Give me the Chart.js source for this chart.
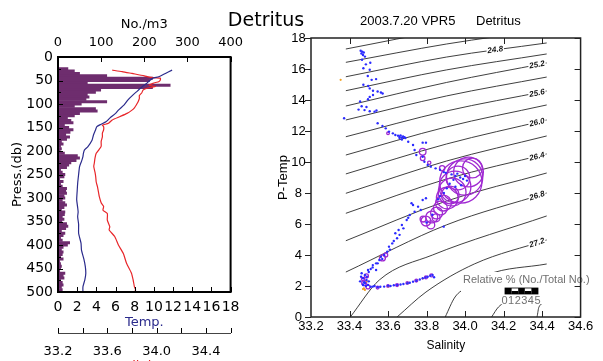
<!DOCTYPE html>
<html>
<head>
<meta charset="utf-8">
<script src="https://cdn.jsdelivr.net/npm/chart.js@4.4.1/dist/chart.umd.min.js"></script>
<style>
  html, body { margin: 0; padding: 0; background: #fff; }
  body { width: 603px; height: 361px; position: relative; overflow: hidden; }
  #leftBox { position: absolute; left: 0; top: 0; width: 250px; height: 361px; }
  #rightBox { position: absolute; left: 200px; top: 0; width: 403px; height: 361px; }
</style>
</head>
<body>
<div id="leftBox"><canvas id="profileChart"></canvas></div>
<div id="rightBox"><canvas id="tsChart"></canvas></div>
<script>
// ---- vertical profile (left panel) ----
const depthBins = [25, 30, 35, 40, 45, 50, 55, 60, 65, 70, 75, 80, 85, 90, 95, 100, 105, 110, 115, 120,
  125, 130, 135, 140, 145, 150, 155, 160, 165, 170, 175, 180, 185, 190, 195, 200, 205, 210, 215, 220,
  225, 230, 235, 240, 245, 250, 255, 260, 265, 270, 275, 280, 285, 290, 295, 300, 305, 310, 315, 320,
  325, 330, 335, 340, 345, 350, 355, 360, 365, 370, 375, 380, 385, 390, 395, 400, 405, 410, 415, 420,
  425, 430, 435, 440, 445, 450, 455, 460, 465, 470, 475, 480, 485, 490, 495, 500];
const detritusCounts = [23, 38, 50, 113, 219, 212, 68, 260, 219, 99, 87, 68, 72, 65, 113, 54, 38, 87, 91, 50,
  38, 22, 30, 35, 15, 25, 35, 28, 18, 27, 20, 8, 12, 6, 8, 5, 15, 45, 50, 42,
  30, 25, 20, 6, 10, 16, 14, 4, 12, 6, 10, 20, 18, 20, 14, 16, 10, 16, 20, 14,
  8, 16, 15, 10, 14, 9, 20, 23, 18, 8, 16, 12, 6, 10, 27, 22, 12, 8, 12, 10,
  6, 12, 4, 6, 8, 6, 4, 16, 12, 14, 6, 10, 12, 8, 10, 6];

const tempDepth = [28, 35, 42, 45, 51, 57, 63, 72, 81, 91, 102, 113, 120, 130, 138, 143, 148, 156, 166, 177,
  191, 198, 205, 212, 222, 233, 250, 269, 285, 304, 320, 330, 340, 356, 375, 396, 411, 430, 446, 460, 474, 489, 500];
const tempValues = [11.9, 11.2, 10.5, 9.9, 9.5, 9.2, 8.8, 8.3, 7.8, 7.3, 6.9, 6.3, 6.0, 5.4, 5.0, 4.5, 4.05, 3.9, 3.7, 3.55,
  3.1, 2.75, 2.65, 2.6, 2.45, 2.25, 2.15, 2.05, 2.0, 1.95, 2.05, 2.1, 2.05, 2.15, 2.15, 2.4, 2.45, 2.7, 2.85, 2.9, 2.8, 2.6, 2.6];

const salDepth = [28, 31, 35, 40, 43, 45, 49, 52, 56, 60, 63, 66, 70, 76, 82, 88, 95, 102, 108, 113,
  120, 127, 134, 141, 145, 148, 155, 162, 170, 180, 190, 198, 205, 215, 225, 233, 245, 255, 266, 276,
  290, 297, 310, 318, 326, 333, 347, 361, 368, 382, 400, 418, 439, 460, 475, 489, 496, 500];
const salValues = [33.64, 33.72, 33.80, 33.90, 33.94, 34.03, 34.03, 34.02, 33.97, 33.94, 33.99, 33.93, 33.89, 33.88, 33.86, 33.86, 33.85, 33.835, 33.82, 33.80,
  33.76, 33.70, 33.64, 33.61, 33.56, 33.57, 33.57, 33.56, 33.56, 33.55, 33.55, 33.53, 33.51, 33.50, 33.495, 33.49, 33.50, 33.506, 33.51, 33.52,
  33.53, 33.535, 33.55, 33.57, 33.565, 33.60, 33.60, 33.62, 33.615, 33.66, 33.69, 33.73, 33.756, 33.796, 33.81, 33.82, 33.83, 33.82];

const countTicks = [0, 100, 200, 300, 400];
const tempTicks = [0, 2, 4, 6, 8, 10, 12, 14, 16, 18];
const salTicks = [33.2, 33.6, 34.0, 34.4];

// ---- T-S diagram (right panel) ----
const tsBlue = [
  [33.458, 17.18], [33.466, 17.12], [33.474, 17.06], [33.462, 17.0], [33.47, 16.9], [33.48, 16.8],
  [33.465, 16.6], [33.508, 16.4], [33.485, 16.3], [33.472, 16.05], [33.505, 15.95], [33.495, 15.55],
  [33.515, 15.3], [33.538, 15.35], [33.472, 14.98], [33.497, 14.9], [33.505, 14.75], [33.522, 14.6],
  [33.546, 14.55], [33.563, 14.48], [33.572, 14.42], [33.522, 14.32], [33.505, 14.2], [33.496, 14.05],
  [33.455, 13.9], [33.463, 13.6], [33.488, 13.55], [33.447, 13.38], [33.478, 13.35], [33.505, 13.27],
  [33.53, 13.25], [33.54, 13.32], [33.372, 12.82],
  [33.546, 12.5], [33.571, 12.32], [33.588, 12.17], [33.605, 11.96], [33.625, 11.85], [33.638, 11.74],
  [33.652, 11.7], [33.66, 11.62], [33.665, 11.72], [33.672, 11.58], [33.678, 11.65], [33.685, 11.6],
  [33.69, 11.55], [33.66, 11.55], [33.672, 11.45], [33.705, 11.31], [33.73, 11.1], [33.78, 11.25],
  [33.797, 11.25], [33.738, 10.77], [33.747, 10.45], [33.78, 10.34], [33.789, 10.02], [33.806, 9.81],
  [33.822, 9.7], [33.847, 9.59], [33.87, 9.5], [33.89, 9.35],
  [33.9, 9.3], [33.93, 9.2], [33.95, 9.1], [33.96, 9.25], [33.975, 9.0], [33.99, 8.9], [34.0, 9.1],
  [34.01, 8.8], [33.94, 8.85], [33.92, 8.6], [33.98, 8.5], [33.905, 8.3], [33.95, 8.4], [33.89, 8.0],
  [33.87, 7.8], [33.86, 7.6],
  [33.797, 7.66], [33.78, 7.55], [33.756, 7.12], [33.73, 7.23], [33.722, 7.34], [33.738, 6.79],
  [33.713, 6.58], [33.697, 6.26], [33.705, 6.4], [33.672, 5.94], [33.68, 5.72], [33.655, 5.61],
  [33.638, 5.4], [33.647, 5.08], [33.66, 5.3], [33.622, 4.75], [33.63, 4.9], [33.605, 4.54],
  [33.596, 4.21], [33.61, 4.35], [33.58, 4.0], [33.563, 3.89], [33.555, 3.68], [33.57, 3.75],
  [33.538, 3.46], [33.546, 3.46], [33.521, 3.35], [33.538, 3.03], [33.496, 3.03], [33.51, 3.1],
  [33.48, 2.71], [33.463, 2.82], [33.471, 2.5], [33.488, 2.39], [33.476, 2.25], [33.47, 2.1],
  [33.471, 2.06], [33.485, 2.0], [33.496, 2.06], [33.51, 1.95], [33.521, 1.96], [33.53, 2.0],
  [33.546, 1.92], [33.56, 1.95], [33.58, 1.96], [33.6, 2.02], [33.613, 2.0], [33.63, 2.05],
  [33.647, 2.06], [33.665, 2.1], [33.68, 2.13], [33.7, 2.18], [33.713, 2.21], [33.73, 2.28],
  [33.747, 2.34], [33.765, 2.42], [33.78, 2.5], [33.795, 2.55], [33.806, 2.6], [33.82, 2.66],
  [33.831, 2.71], [33.839, 2.56], [33.889, 5.83], [33.8, 6.1], [33.83, 6.6], [33.77, 6.9],
  [33.5, 2.9], [33.49, 2.6], [33.52, 3.2], [33.5, 2.3], [33.48, 2.2], [33.455, 2.3], [33.46, 2.6]
];
// [salinity, temp, relative %]
const tsCircles = [
  [33.6, 11.85, 0.4], [33.78, 10.66, 1.0], [33.78, 10.24, 0.7], [33.814, 9.95, 0.5], [33.881, 9.59, 0.8],
  [33.998, 9.03, 5.5], [33.978, 8.71, 6.4], [34.018, 9.35, 4.5], [33.948, 8.39, 4.8], [33.933, 8.06, 4.2],
  [33.963, 8.97, 3.6], [33.908, 7.68, 3.3], [33.888, 7.35, 2.4], [33.872, 7.03, 2.1], [33.852, 6.71, 1.8],
  [33.827, 6.45, 1.8], [33.797, 6.19, 1.5], [33.782, 6.32, 0.9], [34.038, 9.61, 3.0], [33.923, 7.87, 2.7],
  [33.85, 6.4, 1.2], [33.822, 5.94, 1.2],
  [33.571, 3.81, 0.9], [33.588, 4.0, 0.6], [33.488, 2.65, 0.6], [33.476, 2.19, 0.75], [33.496, 1.94, 0.6],
  [33.546, 1.9, 0.45], [33.647, 2.06, 0.45], [33.747, 2.35, 0.45], [33.797, 2.55, 0.45], [33.825, 2.68, 0.45],
  [33.47, 2.45, 0.5], [33.6, 2.0, 0.4], [33.7, 2.2, 0.4]
];
const tsOrange = [[33.47, 1.8], [33.475, 1.85], [33.48, 1.75], [33.49, 2.3], [33.56, 3.9], [33.354, 15.3],
  [33.6, 1.98], [33.7, 2.17], [33.78, 2.48]];

// sigma-theta contours, [salinity, temp]
const isoLines = [
  [[33.381, 17.29], [33.903, 18.52], [34.424, 19.44]],
  [[33.381, 16.43], [33.903, 17.61], [34.424, 18.55]],
  [[33.381, 15.50], [33.903, 16.77], [34.424, 17.68]],
  [[33.381, 14.60], [33.903, 15.94], [34.424, 16.97]],
  [[33.381, 13.61], [33.903, 15.13], [34.424, 16.39]],
  [[33.381, 12.71], [33.903, 14.26], [34.424, 15.48]],
  [[33.381, 11.63], [33.903, 13.29], [34.424, 14.58]],
  [[33.381, 10.45], [33.903, 12.26], [34.424, 13.68]],
  [[33.381, 9.23], [33.903, 11.16], [34.424, 12.71]],
  [[33.381, 7.98], [33.903, 10.06], [34.424, 11.68]],
  [[33.381, 6.69], [33.903, 8.90], [34.424, 10.52]],
  [[33.381, 4.92], [33.903, 7.48], [34.424, 9.29]],
  [[33.381, 2.90], [33.903, 5.94], [34.424, 8.00]],
  [[33.404, 0], [33.555, 2.39], [33.831, 4.0], [34.424, 6.52]],
  [[33.647, 0], [33.797, 1.61], [34.048, 3.42], [34.424, 4.97]],
  [[33.897, 0], [33.948, 1.29], [34.013, 1.94], [34.113, 2.71], [34.424, 3.42]],
  [[34.138, 0], [34.174, 0.65], [34.299, 1.48], [34.424, 2.0]],
  [[34.374, 0], [34.384, 0.65], [34.424, 0.97]]
];
const isoLabels = [
  { text: '24.8', line: 2, s: 34.157, t: 17.23 },
  { text: '25.2', line: 4, s: 34.374, t: 16.26 },
  { text: '25.6', line: 6, s: 34.374, t: 14.43 },
  { text: '26.0', line: 8, s: 34.374, t: 12.54 },
  { text: '26.4', line: 10, s: 34.374, t: 10.34 },
  { text: '26.8', line: 12, s: 34.374, t: 7.81 },
  { text: '27.2', line: 14, s: 34.374, t: 4.77 }
];

const LEFT_FONT = 'DejaVu Sans';
const RIGHT_FONT = 'Liberation Sans';
Chart.defaults.color = '#000';

function fixSize(prop, size) {
  return function (scale) { scale[prop] = size; };
}

// inward ticks and frame for the profile panel
const profileFrame = {
  id: 'profileFrame',
  afterDraw(chart) {
    const { ctx, chartArea: a, scales } = chart;
    ctx.save();
    ctx.strokeStyle = '#000';
    ctx.lineWidth = 1;
    ctx.beginPath();
    countTicks.forEach(v => {
      const x = Math.round(scales.xTop.getPixelForValue(v)) + 0.5;
      ctx.moveTo(x, a.top); ctx.lineTo(x, a.top + 5);
    });
    tempTicks.forEach(v => {
      const x = Math.round(scales.xT.getPixelForValue(v)) + 0.5;
      ctx.moveTo(x, a.bottom); ctx.lineTo(x, a.bottom - 5);
    });
    for (let d = 0; d <= 500; d += 25) {
      const y = Math.round(scales.y.getPixelForValue(d)) + 0.5;
      ctx.moveTo(a.left, y); ctx.lineTo(a.left + (d % 50 ? 3 : 5), y);
    }
    const s = scales.xS;
    for (let k = 0; k <= 7; k++) {
      const x = Math.round(s.getPixelForValue(33.2 + k * 0.2)) + 0.5;
      ctx.moveTo(x, s.top); ctx.lineTo(x, s.top - 5);
    }
    ctx.stroke();
    ctx.lineWidth = 2;
    ctx.strokeRect(a.left, a.top, a.right - a.left, a.bottom - a.top);
    // salinity title, cut by the bottom edge
    ctx.fillStyle = '#e02020';
    ctx.font = '13px ' + LEFT_FONT;
    ctx.textAlign = 'center';
    ctx.textBaseline = 'middle';
    ctx.fillText('Salinity', 140, 367);
    ctx.restore();
  }
};

new Chart(document.getElementById('profileChart'), {
  type: 'bar',
  data: {
    datasets: [
      {
        type: 'line',
        label: 'Temp.',
        data: tempDepth.map((d, i) => ({ x: tempValues[i], y: d })),
        xAxisID: 'xT',
        yAxisID: 'y',
        borderColor: '#2b2b8c',
        borderWidth: 1.2,
        pointRadius: 0,
        fill: false,
        tension: 0.2
      },
      {
        type: 'line',
        label: 'Salinity',
        data: salDepth.map((d, i) => ({ x: salValues[i], y: d })),
        xAxisID: 'xS',
        yAxisID: 'y',
        borderColor: '#e8262a',
        borderWidth: 1.2,
        pointRadius: 0,
        fill: false,
        tension: 0.2
      },
      {
        type: 'bar',
        label: 'No./m3',
        data: depthBins.map((d, i) => ({ x: detritusCounts[i], y: d })),
        xAxisID: 'xTop',
        yAxisID: 'y',
        backgroundColor: '#6e2d6e',
        borderWidth: 0,
        barPercentage: 1,
        categoryPercentage: 1
      }
    ]
  },
  options: {
    indexAxis: 'y',
    responsive: true,
    maintainAspectRatio: false,
    animation: false,
    events: [],
    layout: { padding: { left: 0, right: 15, top: 0, bottom: 0 } },
    plugins: { legend: { display: false }, tooltip: { enabled: false } },
    scales: {
      y: {
        type: 'linear',
        position: 'left',
        reverse: true,
        min: 0,
        max: 500,
        offset: false,
        afterFit: fixSize('width', 58),
        grid: { display: false, drawTicks: false },
        border: { display: false },
        ticks: { stepSize: 50, padding: 5, font: { family: LEFT_FONT, size: 14 } },
        title: { display: true, text: 'Press.(db)', padding: { top: 10, bottom: 0 }, font: { family: LEFT_FONT, size: 13 } }
      },
      xTop: {
        type: 'linear',
        position: 'top',
        min: 0,
        max: 400,
        afterFit: fixSize('height', 57),
        grid: { display: false, drawTicks: false },
        border: { display: false },
        ticks: { stepSize: 100, padding: 7, maxRotation: 0, autoSkip: false, font: { family: LEFT_FONT, size: 13 } },
        title: { display: true, text: 'No./m3', padding: { top: 17, bottom: 0 }, font: { family: LEFT_FONT, size: 13 } }
      },
      xT: {
        type: 'linear',
        position: 'bottom',
        weight: 0,
        min: 0,
        max: 18,
        afterFit: fixSize('height', 41),
        afterBuildTicks: s => { s.ticks = tempTicks.map(v => ({ value: v })); },
        grid: { display: false, drawTicks: false },
        border: { display: false },
        ticks: { padding: 6.6, maxRotation: 0, autoSkip: false, font: { family: LEFT_FONT, size: 14 } },
        title: { display: true, text: 'Temp.', color: '#2b2b8c', padding: { top: 0, bottom: 3 }, font: { family: LEFT_FONT, size: 13 } }
      },
      xS: {
        type: 'linear',
        position: 'bottom',
        weight: 1,
        min: 33.2,
        max: 34.6,
        afterFit: fixSize('height', 28),
        afterBuildTicks: s => { s.ticks = salTicks.map(v => ({ value: v })); },
        grid: { display: false, drawTicks: false },
        border: { display: true, color: '#444', width: 1 },
        ticks: { padding: 11, maxRotation: 0, autoSkip: false, callback: v => v.toFixed(1), font: { family: LEFT_FONT, size: 13 } }
      }
    }
  },
  plugins: [profileFrame]
});

// ---- T-S diagram ----
const PCT_RADIUS = 3.3; // px of radius per 1 % (scale bar: 0..5 over ~33 px)

const tsDecor = {
  id: 'tsDecor',
  afterDatasetsDraw(chart) {
    const { ctx, scales } = chart;
    const xs = scales.x, ys = scales.y;
    ctx.save();
    // contour labels
    ctx.font = 'bold italic 8px ' + RIGHT_FONT;
    ctx.textAlign = 'center';
    ctx.textBaseline = 'middle';
    isoLabels.forEach(l => {
      const pts = isoLines[l.line];
      const p1 = pts[pts.length - 2], p2 = pts[pts.length - 1];
      const ang = Math.atan2(ys.getPixelForValue(p2[1]) - ys.getPixelForValue(p1[1]),
        xs.getPixelForValue(p2[0]) - xs.getPixelForValue(p1[0]));
      const x = xs.getPixelForValue(l.s), y = ys.getPixelForValue(l.t);
      ctx.save();
      ctx.translate(x, y);
      ctx.rotate(ang);
      const w = ctx.measureText(l.text).width;
      ctx.fillStyle = '#fff';
      ctx.fillRect(-w / 2 - 1, -4, w + 2, 8);
      ctx.fillStyle = '#111';
      ctx.fillText(l.text, 0, 0);
      ctx.restore();
    });
    // legend for circle size
    const ox = -200;
    ctx.fillStyle = '#fff';
    ctx.fillRect(461 + ox, 272, 118, 32);
    ctx.fillStyle = '#707070';
    ctx.font = '11px ' + RIGHT_FONT;
    ctx.textAlign = 'left';
    ctx.fillText('Relative % (No./Total No.)', 463 + ox, 280);
    const bx = 505 + ox, by = 288, cw = 6.6, ch = 3;
    ctx.fillStyle = '#000';
    for (let i = 0; i < 5; i++) {
      ctx.fillRect(bx + i * cw, by + (i % 2 ? ch : 0), cw, ch);
      if (i % 2 === 0) ctx.fillRect(bx + i * cw, by + ch, cw, ch);
    }
    ctx.strokeStyle = '#000';
    ctx.lineWidth = 0.8;
    ctx.strokeRect(bx, by, cw * 5, ch * 2);
    ctx.fillStyle = '#707070';
    ctx.textAlign = 'center';
    ['0', '1', '2', '3', '4', '5'].forEach((t, i) => ctx.fillText(t, bx - 0.5 + i * cw, 301));
    ctx.restore();
  },
  afterDraw(chart) {
    const { ctx, chartArea: a, scales } = chart;
    const xs = scales.x, ys = scales.y;
    ctx.save();
    ctx.strokeStyle = '#222';
    ctx.lineWidth = 1;
    ctx.beginPath();
    for (let k = 1; k < 7; k++) {
      const x = Math.round(xs.getPixelForValue(33.2 + k * 0.2)) + 0.5;
      ctx.moveTo(x, a.top); ctx.lineTo(x, a.top + 6);
      ctx.moveTo(x, a.bottom); ctx.lineTo(x, a.bottom - 6);
    }
    for (let t = 0; t <= 18; t += 2) {
      const y = Math.round(ys.getPixelForValue(t)) + 0.5;
      ctx.moveTo(a.left, y); ctx.lineTo(a.left - 6, y);
      ctx.moveTo(a.right, y); ctx.lineTo(a.right - 6, y);
    }
    ctx.stroke();
    ctx.lineWidth = 1.5;
    ctx.strokeRect(a.left, a.top, a.right - a.left, a.bottom - a.top);
    // titles
    ctx.fillStyle = '#000';
    ctx.textBaseline = 'middle';
    ctx.textAlign = 'center';
    ctx.font = '19px ' + LEFT_FONT;
    ctx.fillText('Detritus', 266 - 200, 21);
    ctx.textAlign = 'left';
    ctx.font = '13px ' + RIGHT_FONT;
    ctx.fillText('2003.7.20 VPR5', 360 - 200, 21);
    ctx.fillText('Detritus', 476 - 200, 21);
    ctx.restore();
  }
};

new Chart(document.getElementById('tsChart'), {
  type: 'scatter',
  data: {
    datasets: [
      {
        label: 'blue',
        data: tsBlue.map(p => ({ x: p[0], y: p[1] })),
        backgroundColor: '#2b2bff',
        borderWidth: 0,
        pointRadius: 1.2
      },
      {
        label: 'orange',
        data: tsOrange.map(p => ({ x: p[0], y: p[1] })),
        backgroundColor: '#f0a020',
        borderWidth: 0,
        pointRadius: 1.1
      },
      {
        type: 'bubble',
        label: 'relative',
        data: tsCircles.map(c => ({ x: c[0], y: c[1], r: c[2] * PCT_RADIUS })),
        borderColor: '#a02ad2',
        backgroundColor: 'rgba(0,0,0,0)',
        borderWidth: 1.3
      },
      ...isoLines.map((pts, i) => ({
        type: 'line',
        label: 'sigma' + i,
        data: pts.map(p => ({ x: p[0], y: p[1] })),
        borderColor: '#2a2a2a',
        borderWidth: 0.9,
        pointRadius: 0,
        fill: false,
        cubicInterpolationMode: 'monotone'
      }))
    ]
  },
  options: {
    responsive: true,
    maintainAspectRatio: false,
    animation: false,
    events: [],
    layout: { padding: { left: 0, right: 13, top: 38, bottom: 0 } },
    plugins: { legend: { display: false }, tooltip: { enabled: false } },
    scales: {
      x: {
        type: 'linear',
        min: 33.2,
        max: 34.6,
        afterFit: fixSize('height', 44),
        grid: { display: false, drawTicks: false },
        border: { display: false },
        ticks: { stepSize: 0.2, padding: 1.2, maxRotation: 0, autoSkip: false, callback: v => v.toFixed(1), font: { family: RIGHT_FONT, size: 13 } },
        title: { display: true, text: 'Salinity', padding: { top: 0, bottom: 7.8 }, font: { family: RIGHT_FONT, size: 12 } }
      },
      y: {
        type: 'linear',
        min: 0,
        max: 18,
        afterFit: fixSize('width', 111),
        grid: { display: false, drawTicks: false },
        border: { display: false },
        ticks: { stepSize: 2, padding: 5.3, crossAlign: 'center', font: { family: RIGHT_FONT, size: 13 } },
        title: { display: true, text: 'P-Temp', padding: { top: 76, bottom: 0 }, font: { family: RIGHT_FONT, size: 13 } }
      }
    }
  },
  plugins: [tsDecor]
});
</script>
</body>
</html>
